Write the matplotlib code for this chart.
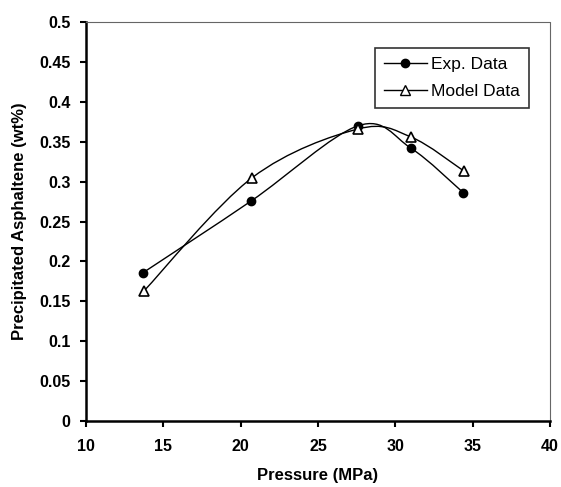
import numpy as np
import matplotlib
matplotlib.use("Agg")
import matplotlib.pyplot as plt
from matplotlib.path import Path
from matplotlib.patches import PathPatch
from matplotlib.lines import Line2D

pressure_exp = [13.7, 20.7, 27.6, 31.0, 34.4]
exp_data = [0.186, 0.276, 0.370, 0.342, 0.286]
pressure_model = [13.75, 20.75, 27.6, 31.0, 34.45]
model_data = [0.163, 0.305, 0.366, 0.356, 0.313]

x_ticks = [10, 15, 20, 25, 30, 35, 40]
y_ticks = [0, 0.05, 0.1, 0.15, 0.2, 0.25, 0.3, 0.35, 0.4, 0.45, 0.5]
y_tick_labels = ["0", "0.05", "0.1", "0.15", "0.2", "0.25", "0.3", "0.35", "0.4", "0.45", "0.5"]

plt.rcParams['font.family'] = ['Liberation Sans', 'DejaVu Sans']
plt.rcParams['font.weight'] = 'bold'

fig = plt.figure(figsize=(5.61, 4.87), dpi=100)
ax = fig.add_axes([86/561, 1 - 421/487, (550-86)/561, (421-22)/487])


def smooth_path(ax, xs, ys, tension=1/6):
    # Excel-like smoothed line: cubic Bezier with Catmull-Rom control points (display space)
    pts = ax.transData.transform(np.column_stack([xs, ys]))
    n = len(pts)
    verts = [pts[0]]
    codes = [Path.MOVETO]
    for i in range(n - 1):
        p0 = pts[i - 1] if i > 0 else pts[i]
        p1 = pts[i]
        p2 = pts[i + 1]
        p3 = pts[i + 2] if i + 2 < n else pts[i + 1]
        c1 = p1 + (p2 - p0) * tension
        c2 = p2 - (p3 - p1) * tension
        verts += [c1, c2, p2]
        codes += [Path.CURVE4] * 3
    return Path(verts, codes)


ax.set_xlim(10, 40)
ax.set_ylim(0, 0.5)

for xs, ys in [(pressure_exp, exp_data), (pressure_model, model_data)]:
    p = smooth_path(ax, xs, ys)
    patch = PathPatch(p, facecolor='none', edgecolor='black', lw=1.0, transform=None)
    ax.add_artist(patch)

ax.plot(pressure_exp, exp_data, linestyle='none', marker='o', markersize=6,
        color='black', zorder=5)
ax.plot(pressure_model, model_data, linestyle='none', marker='^', markersize=7,
        markerfacecolor='white', markeredgecolor='black', markeredgewidth=1.2, zorder=5)

ax.set_xticks(x_ticks)
ax.set_xticklabels([str(t) for t in x_ticks])
ax.set_yticks(y_ticks)
ax.set_yticklabels(y_tick_labels)
ax.tick_params(direction='out', length=4, width=1.5, labelsize=11.5)
ax.tick_params(axis='x', pad=9)
ax.tick_params(axis='y', pad=7)
for lab in ax.get_xticklabels() + ax.get_yticklabels():
    lab.set_fontweight('bold')

ax.spines['left'].set_linewidth(1.8)
ax.spines['bottom'].set_linewidth(1.8)
for s in ['top', 'right']:
    ax.spines[s].set_linestyle((0, (1, 1)))
    ax.spines[s].set_linewidth(0.8)
    ax.spines[s].set_color('#666666')

ax.set_xlabel("Pressure (MPa)", fontsize=12, fontweight='bold', labelpad=10)
ax.set_ylabel("Precipitated Asphaltene (wt%)", fontsize=12, fontweight='bold', labelpad=9)

handles = [
    Line2D([0], [0], color='black', lw=1.0, marker='o', markersize=6),
    Line2D([0], [0], color='black', lw=1.0, marker='^', markersize=7,
           markerfacecolor='white', markeredgecolor='black'),
]
leg = ax.legend(handles, ["Exp. Data", "Model Data"], loc='upper right',
                bbox_to_anchor=((529-86)/464, (421-48)/399), frameon=True,
                fancybox=False, edgecolor='black', fontsize=12.5, handlelength=2.5,
                borderpad=0.5, labelspacing=0.7, handletextpad=0.25, borderaxespad=0)
leg.get_frame().set_linewidth(1.2)
for t in leg.get_texts():
    t.set_fontweight('normal')

fig.savefig("out.png", dpi=100)
